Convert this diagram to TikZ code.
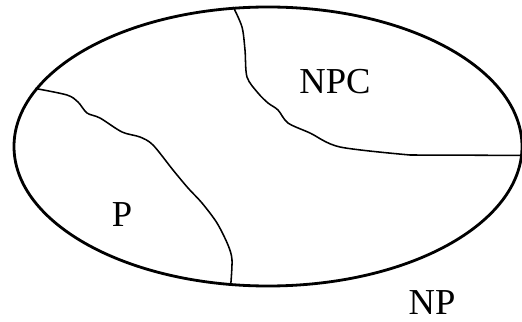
\documentclass[tikz,border=0pt]{standalone}
\usepackage{fontspec}
\setmainfont{Liberation Serif}
\usetikzlibrary{shapes.geometric}
\tikzset{
    classbox/.style={draw, ellipse, line width=2pt, inner sep=0, minimum width=12.7cm, minimum height=6.975cm},
    border/.style={line width=1.1pt, line join=round},
    setname/.style={inner sep=0, font=\fontsize{26}{30}\selectfont}
}

\begin{document}
\begin{tikzpicture}
    \useasboundingbox (0, 0) rectangle (13.05, 8.025);
    \node[classbox](np) at (6.7, 4.3625){};
    % NPC region
    \draw[border] plot[smooth, tension=.5] coordinates {(np.104.4) (6.05, 7.35) (6.125, 6.775) (6.175, 6.1) (6.45, 5.7) (6.7, 5.45) (6.95, 5.275) (7.2, 4.95) (7.75, 4.7) (8.5, 4.35) (10.25, 4.15)} -- (np.358.1);
    % P region
    \draw[border] plot[smooth, tension=.5] coordinates {(np.166.9) (1.675, 5.65) (1.95, 5.475) (2.175, 5.2) (2.5, 5.075) (3.05, 4.725) (3.5, 4.6) (3.825, 4.4) (4.325, 3.775) (4.7, 3.325) (5.05, 2.95) (5.425, 2.45) (5.7, 1.9) (5.8, 1.525) (np.255.2)};
    \node[setname](npc) at (8.375, 5.975){NPC};
    \node[setname](p) at (3.05, 2.65){P};
    \node[setname](nplabel) at (10.8, 0.47){NP};
\end{tikzpicture}
\end{document}
